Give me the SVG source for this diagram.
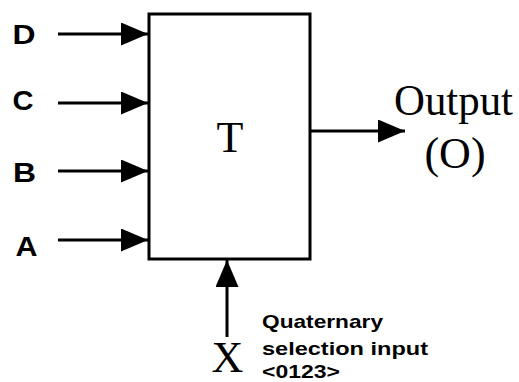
<svg xmlns="http://www.w3.org/2000/svg" width="519" height="382" viewBox="0 0 519 382">
<style>
.ln{stroke:#000;stroke-width:3;fill:none}
.box{stroke:#000;stroke-width:3;fill:#fff}
.lbl{font-family:"Liberation Sans",Arial,sans-serif;font-weight:bold;font-size:27px;fill:#000;text-anchor:middle}
.ser{font-family:"Liberation Serif","Times New Roman",serif;font-size:44px;fill:#000;text-anchor:middle}
.note{font-family:"Liberation Sans",Arial,sans-serif;font-weight:bold;font-size:19px;fill:#000}
</style>
<defs>
<marker id="ah" markerUnits="userSpaceOnUse" markerWidth="28" markerHeight="23" refX="27" refY="11.5" orient="auto">
<path d="M0,0 L27,11.5 L0,23 Z" fill="#000"/>
</marker>
</defs>
<rect width="519" height="382" fill="#fff"/>
<g id="connectors">
<line class="ln" x1="58" y1="34" x2="148" y2="34" marker-end="url(#ah)"/>
<line class="ln" x1="58" y1="103" x2="148" y2="103" marker-end="url(#ah)"/>
<line class="ln" x1="58" y1="171" x2="148" y2="171" marker-end="url(#ah)"/>
<line class="ln" x1="58" y1="240" x2="148" y2="240" marker-end="url(#ah)"/>
<line class="ln" x1="310" y1="131" x2="405" y2="131" marker-end="url(#ah)"/>
<line class="ln" x1="227" y1="337" x2="227" y2="260" marker-end="url(#ah)"/>
</g>
<g id="node-T">
<rect class="box" x="149" y="14" width="161" height="245"/>
<text class="ser" x="230" y="152">T</text>
</g>
<g id="node-D"><text class="lbl" x="24" y="44" textLength="23" lengthAdjust="spacingAndGlyphs">D</text></g>
<g id="node-C"><text class="lbl" x="23" y="110" textLength="21" lengthAdjust="spacingAndGlyphs">C</text></g>
<g id="node-B"><text class="lbl" x="24.5" y="182" textLength="23" lengthAdjust="spacingAndGlyphs">B</text></g>
<g id="node-A"><text class="lbl" x="26.5" y="256" textLength="22" lengthAdjust="spacingAndGlyphs">A</text></g>
<g id="node-X"><text class="ser" x="227.5" y="372" font-size="42">X</text></g>
<g id="node-output">
<text class="ser" x="453.5" y="115" textLength="119" lengthAdjust="spacingAndGlyphs">Output</text>
<text class="ser" x="455" y="168">(O)</text>
</g>
<g id="node-selection">
<text class="note" x="262" y="328" textLength="121" lengthAdjust="spacingAndGlyphs">Quaternary</text>
<text class="note" x="262" y="355" textLength="166" lengthAdjust="spacingAndGlyphs">selection input</text>
<text class="note" x="262" y="378" font-size="17" textLength="78" lengthAdjust="spacingAndGlyphs">&lt;0123&gt;</text>
</g>
</svg>
